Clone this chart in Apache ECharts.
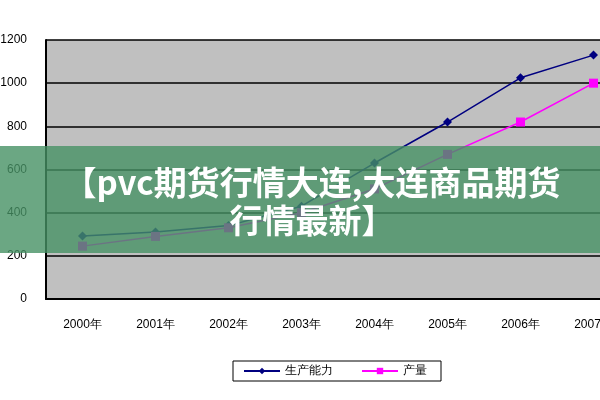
<!DOCTYPE html>
<html><head><meta charset="utf-8">
<script src="https://cdn.jsdelivr.net/npm/echarts@6/dist/echarts.min.js"></script>
<style>html,body{margin:0;background:#fff}#graph{width:600px;height:400px}</style>
</head><body><div id="graph"></div>
<script>
var years = ['2000年', '2001年', '2002年', '2003年', '2004年', '2005年', '2006年', '2007年'];
var capacity = [292, 310, 340, 430, 630, 820, 1025, 1130];
var output = [245, 290, 330, 400, 510, 670, 820, 1000];
var title = '【pvc期货行情大连,大连商品期货\n行情最新】';

var chart = echarts.init(document.getElementById('graph'));
chart.setOption({
  animation: false,
  grid: { left: 46, top: 40, width: 584, height: 259, backgroundColor: '#c0c0c0', show: true, borderWidth: 0,
    outerBoundsMode: 'none', containLabel: false },
  legend: {
    top: 361, left: 233, itemGap: 28, itemWidth: 36, itemHeight: 8,
    borderColor: '#000', borderWidth: 1, padding: [4, 14, 4, 10],
    textStyle: { fontSize: 12, color: '#000' },
    data: ['生产能力', '产量']
  },
  xAxis: {
    type: 'category', data: years,
    axisLine: { lineStyle: { color: '#000', width: 2 } },
    axisTick: { lineStyle: { color: '#000' } },
    axisLabel: { color: '#000', fontSize: 12, margin: 20 }
  },
  yAxis: {
    type: 'value', min: 0, max: 1200, interval: 200,
    axisLine: { show: true, lineStyle: { color: '#000', width: 2 } },
    splitLine: { lineStyle: { color: '#000', width: 1.5 } },
    axisLabel: { color: '#000', fontSize: 12, margin: 19, formatter: function (v) { return String(v); } }
  },
  series: [
    { name: '生产能力', type: 'line', data: capacity, symbol: 'diamond', symbolSize: 9,
      itemStyle: { color: '#000080' }, lineStyle: { color: '#000080', width: 1.5 } },
    { name: '产量', type: 'line', data: output, symbol: 'rect', symbolSize: 9,
      itemStyle: { color: '#ff00ff' }, lineStyle: { color: '#ff00ff', width: 1.5 } }
  ],
  graphic: [
    { type: 'rect', shape: { x: 0, y: 146, width: 600, height: 107 }, style: { fill: 'rgba(70,145,100,0.8)' }, z: 100 },
    { type: 'text', x: 312, y: 163, z: 101,
      style: { text: title, fill: '#fff', font: 'bold 33px "Noto Sans CJK SC"', align: 'center', lineHeight: 38 } }
  ]
});
</script></body></html>
